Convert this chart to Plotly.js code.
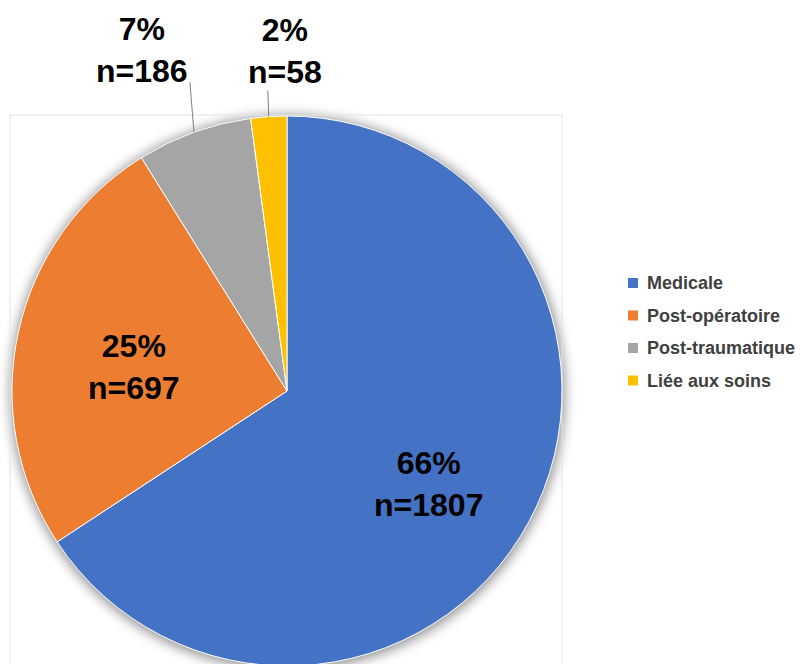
<!DOCTYPE html>
<html>
<head>
<meta charset="utf-8">
<script src="https://cdn.plot.ly/plotly-3.0.1.min.js"></script>
<style>
  html, body { margin: 0; padding: 0; overflow: hidden; background: #ffffff; }
  #chart { width: 800px; height: 670px; }
</style>
</head>
<body>
<div id="chart"></div>
<script>
// Répartition des cas par origine
const categories = ['Medicale', 'Post-opératoire', 'Post-traumatique', 'Liée aux soins'];
const counts = [1807, 697, 186, 58];
const colors = ['#4472C4', '#ED7D31', '#A5A5A5', '#FFC000'];

const W = 800, H = 670;
const M = { l: 12, r: 238, t: 116, b: 4 };
const PW = W - M.l - M.r, PH = H - M.t - M.b;
const px2x = px => (px - M.l) / PW;
const px2y = py => (H - M.b - py) / PH;

const FONT = '"Liberation Sans", Arial, sans-serif';
const total = counts.reduce((a, b) => a + b, 0);

// label placement, in pixels from the point where each slice's mid-angle meets the rim;
// small slices get a leader line from the rim up to their label
const labelStyle = {
  'Medicale':         { text: [-100, -38] },
  'Post-opératoire':  { text: [116, 35] },
  'Post-traumatique': { text: [-52, -82], line: [-4, -50] },
  'Liée aux soins':   { text: [16, -66],  line: [-1, -26] }
};

const annotations = [];
const shapes = [];

// soft shadow disc under the pie
shapes.push({
  type: 'circle', xref: 'paper', yref: 'paper', layer: 'below',
  x0: px2x(M.l - 2), x1: px2x(M.l + PW + 3), y0: px2y(M.t + PH + 4), y1: px2y(M.t - 1),
  fillcolor: 'rgba(0,0,0,0.42)', line: { width: 0 }
});

// light frame around the plot area
shapes.push({
  type: 'rect', xref: 'paper', yref: 'paper', layer: 'below',
  x0: px2x(10), x1: px2x(562), y0: px2y(700), y1: px2y(115),
  fillcolor: 'rgba(0,0,0,0)', line: { color: '#e3e3e3', width: 1 }
});

// value labels, anchored at the mid-angle of each slice
let cum = 0;
counts.forEach((v, i) => {
  const theta = 2 * Math.PI * (cum + v / 2) / total;
  cum += v;
  const st = labelStyle[categories[i]];
  const ex = 0.5 + 0.5 * Math.sin(theta);
  const ey = 0.5 + 0.5 * Math.cos(theta);
  if (st.line) {
    shapes.push({
      type: 'line', xref: 'paper', yref: 'paper',
      x0: ex, y0: ey,
      x1: ex + st.line[0] / PW, y1: ey - st.line[1] / PH,
      line: { color: '#7f7f7f', width: 1 }
    });
  }
  annotations.push({
    xref: 'paper', yref: 'paper', x: ex, y: ey,
    xshift: st.text[0], yshift: -st.text[1],
    xanchor: 'center', yanchor: 'middle', showarrow: false,
    text: Math.round(v / total * 100) + '%<br>n=' + v,
    font: { family: FONT, size: 32, weight: 700, color: '#000000' }
  });
});

// legend
categories.forEach((c, i) => {
  const yc = 283 + 32.5 * i;
  shapes.push({
    type: 'rect', xref: 'paper', yref: 'paper',
    x0: px2x(628), x1: px2x(638), y0: px2y(yc + 5), y1: px2y(yc - 5),
    fillcolor: colors[i], line: { width: 0 }
  });
  annotations.push({
    xref: 'paper', yref: 'paper', x: px2x(645), y: px2y(yc),
    xanchor: 'left', yanchor: 'middle', showarrow: false,
    text: c, font: { family: FONT, size: 18, weight: 700, color: '#404040' }
  });
});

const trace = {
  type: 'pie',
  labels: categories,
  values: counts,
  sort: false,
  direction: 'clockwise',
  rotation: 0,
  marker: { colors: colors, line: { color: '#ffffff', width: 1 } },
  textinfo: 'none',
  hoverinfo: 'skip',
  showlegend: false
};

const layout = {
  width: W, height: H,
  margin: M,
  paper_bgcolor: '#ffffff',
  showlegend: false,
  shapes: shapes,
  annotations: annotations
};

// blur the shadow disc with a filter placed in the chart's own <defs>
function applyShadow() {
  const NS = 'http://www.w3.org/2000/svg';
  const svg = document.querySelector('#chart svg.main-svg');
  let defs = svg.querySelector('defs');
  if (!defs) { defs = document.createElementNS(NS, 'defs'); svg.insertBefore(defs, svg.firstChild); }
  const f = document.createElementNS(NS, 'filter');
  f.setAttribute('id', 'pieShadow');
  f.setAttribute('x', '-20%'); f.setAttribute('y', '-20%');
  f.setAttribute('width', '140%'); f.setAttribute('height', '140%');
  const blur = document.createElementNS(NS, 'feGaussianBlur');
  blur.setAttribute('stdDeviation', '6');
  f.appendChild(blur);
  defs.appendChild(f);
  const disc = document.querySelector('#chart .shapelayer path');
  if (disc) disc.setAttribute('filter', 'url(#pieShadow)');
}

Plotly.newPlot('chart', [trace], layout, { staticPlot: true }).then(applyShadow);
</script>
</body>
</html>
